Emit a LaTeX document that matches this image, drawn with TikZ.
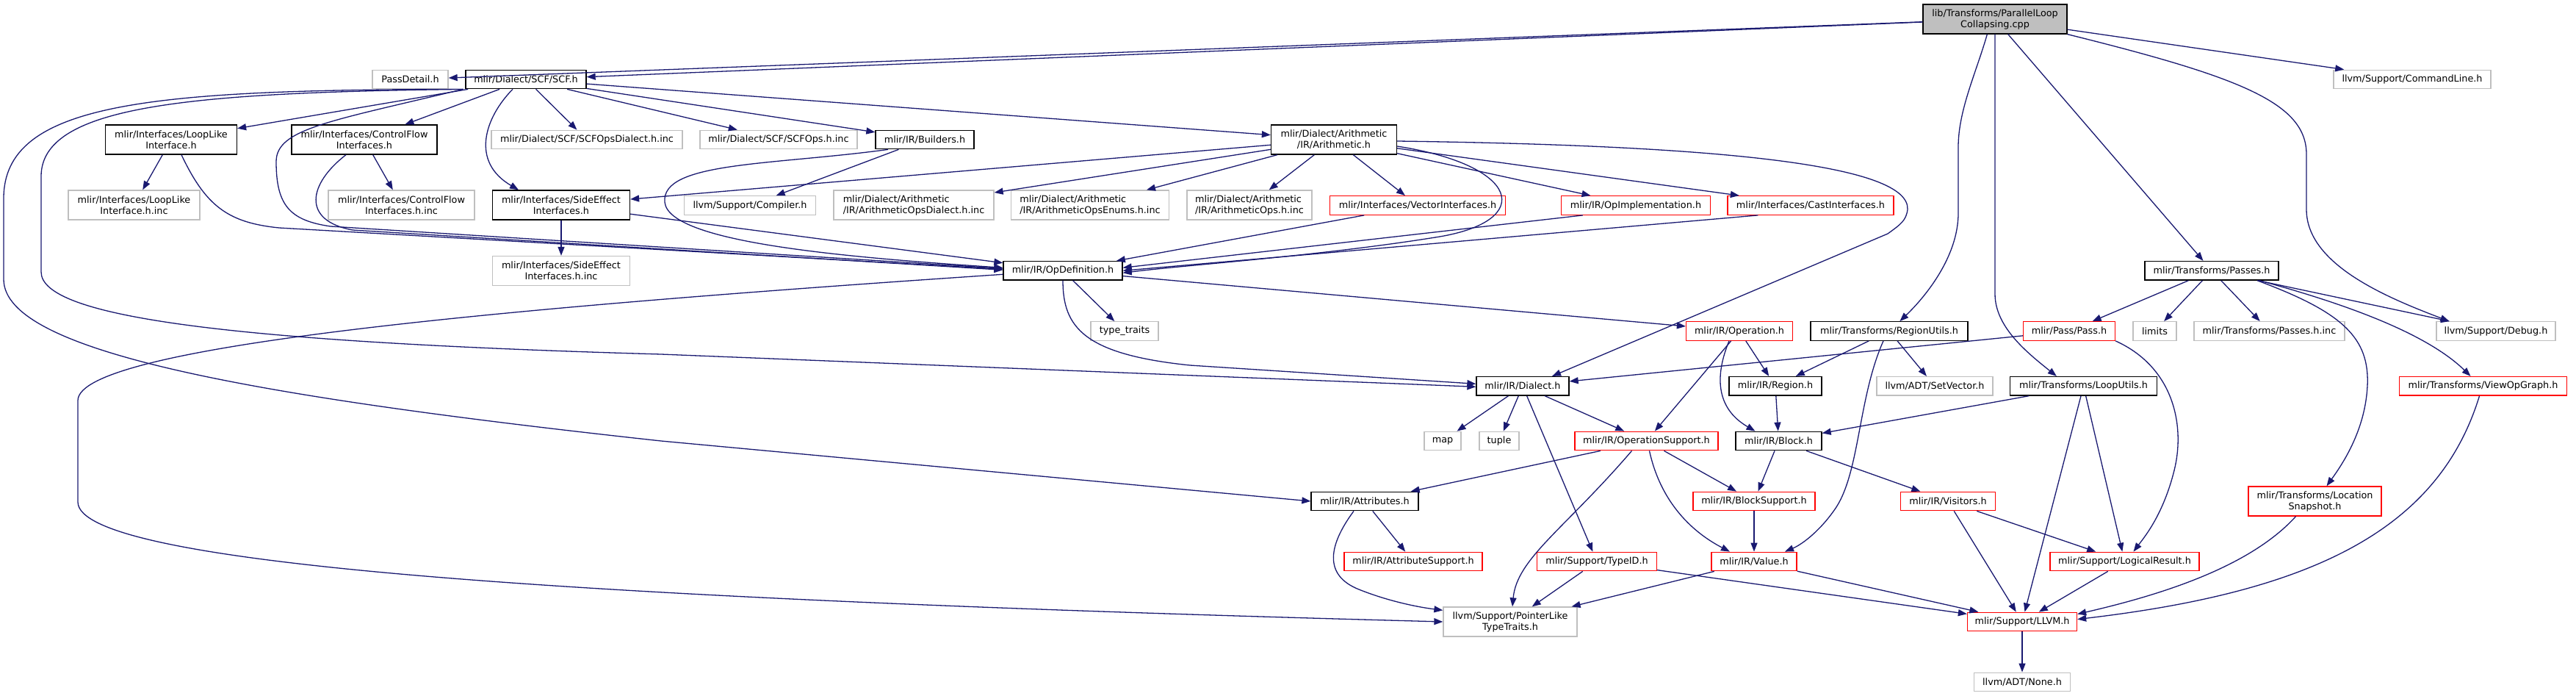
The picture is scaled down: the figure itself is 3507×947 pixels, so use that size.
\documentclass[tikz,border=0pt]{standalone}
\usepackage{fontspec}
\setmainfont{DejaVu Sans}
\usetikzlibrary{arrows.meta}
\definecolor{edgec}{HTML}{191970}
\definecolor{grey75}{HTML}{BFBFBF}
\definecolor{boxred}{HTML}{FF0000}
\tikzset{
  box/.style={rectangle, draw, line width=1.3pt, inner sep=0pt, minimum height=25.5pt,
    font=\fontsize{12.8}{15}\selectfont, align=center, fill=white},
  nb/.style={box, draw=black},
  ng/.style={box, draw=grey75},
  nr/.style={box, draw=boxred},
  rootbox/.style={box, draw=black, fill=grey75},
  two/.style={minimum height=40pt},
  e/.style={draw=edgec, line width=1.3pt, -{Triangle[length=12pt,width=9pt]}},
}
\begin{document}
\begin{tikzpicture}[x=1pt,y=-1pt]
\useasboundingbox (0,0) rectangle (3507,947);
% nodes
\node[rootbox, two, minimum width=196pt] (R) at (2716,26) {lib/Transforms/ParallelLoop\\Collapsing.cpp};
\node[ng, minimum width=103pt] (PD) at (558.5,108) {PassDetail.h};
\node[nb, minimum width=164pt] (SCF) at (716,108) {mlir/Dialect/SCF/SCF.h};
\node[ng, minimum width=214pt] (CL) at (3284,108) {llvm/Support/CommandLine.h};
\node[nb, two, minimum width=179pt] (LL) at (233,190) {mlir/Interfaces/LoopLike\\Interface.h};
\node[nb, two, minimum width=198pt] (CF) at (496,190) {mlir/Interfaces/ControlFlow\\Interfaces.h};
\node[ng, minimum width=260pt] (SCFD) at (799,190) {mlir/Dialect/SCF/SCFOpsDialect.h.inc};
\node[ng, minimum width=214pt] (SCFO) at (1060,190) {mlir/Dialect/SCF/SCFOps.h.inc};
\node[nb, minimum width=134pt] (BLD) at (1259,190) {mlir/IR/Builders.h};
\node[nb, two, minimum width=171pt] (AR) at (1816,190) {mlir/Dialect/Arithmetic\\/IR/Arithmetic.h};
\node[ng, two, minimum width=179pt] (LLI) at (182.5,279) {mlir/Interfaces/LoopLike\\Interface.h.inc};
\node[ng, two, minimum width=199pt] (CFI) at (546.5,279) {mlir/Interfaces/ControlFlow\\Interfaces.h.inc};
\node[nb, two, minimum width=187pt] (SE) at (764,279) {mlir/Interfaces/SideEffect\\Interfaces.h};
\node[ng, minimum width=179pt] (CMP) at (1021,279.5) {llvm/Support/Compiler.h};
\node[ng, two, align=left, minimum width=218pt] (AOD) at (1244,279) {mlir/Dialect/Arithmetic\\/IR/ArithmeticOpsDialect.h.inc};
\node[ng, two, align=left, minimum width=215pt] (AOE) at (1484,279) {mlir/Dialect/Arithmetic\\/IR/ArithmeticOpsEnums.h.inc};
\node[ng, two, align=left, minimum width=170pt] (AOO) at (1701,279) {mlir/Dialect/Arithmetic\\/IR/ArithmeticOps.h.inc};
\node[nr, minimum width=239pt] (VI) at (1930,279.5) {mlir/Interfaces/VectorInterfaces.h};
\node[nr, minimum width=203pt] (OI) at (2227,279.5) {mlir/IR/OpImplementation.h};
\node[nr, minimum width=226pt] (CI) at (2465,279.5) {mlir/Interfaces/CastInterfaces.h};
\node[ng, two, minimum width=187pt] (SEI) at (764,368.5) {mlir/Interfaces/SideEffect\\Interfaces.h.inc};
\node[nb, minimum width=162pt] (OD) at (1447,368.3) {mlir/IR/OpDefinition.h};
\node[nb, minimum width=182pt] (PS) at (3011,368.3) {mlir/Transforms/Passes.h};
\node[ng, minimum width=92pt] (TT) at (1531,450.5) {type\_traits};
\node[nr, minimum width=145pt] (OP) at (2368,450.5) {mlir/IR/Operation.h};
\node[nb, minimum width=214pt] (RU) at (2572,450.5) {mlir/Transforms/RegionUtils.h};
\node[nr, minimum width=125pt] (PA) at (2817,450.5) {mlir/Pass/Pass.h};
\node[ng, minimum width=59pt] (LIM) at (2933.5,450.5) {limits};
\node[ng, minimum width=205pt] (PSI) at (3089.5,450.5) {mlir/Transforms/Passes.h.inc};
\node[ng, minimum width=162pt] (DBG) at (3398,450.5) {llvm/Support/Debug.h};
\node[nb, minimum width=126pt] (DI) at (2073,525.3) {mlir/IR/Dialect.h};
\node[nb, minimum width=126pt] (RG) at (2417,525.3) {mlir/IR/Region.h};
\node[ng, minimum width=158pt] (SV) at (2634,525.3) {llvm/ADT/SetVector.h};
\node[nb, minimum width=200pt] (LU) at (2836.5,525.3) {mlir/Transforms/LoopUtils.h};
\node[nr, minimum width=228pt] (VOG) at (3380.5,525.3) {mlir/Transforms/ViewOpGraph.h};
\node[ng, minimum width=50pt] (MAP) at (1964,600) {map};
\node[ng, minimum width=54pt] (TUP) at (2041,600) {tuple};
\node[nr, minimum width=195pt] (OS) at (2241.5,600) {mlir/IR/OperationSupport.h};
\node[nb, minimum width=117pt] (BL) at (2421.5,600) {mlir/IR/Block.h};
\node[nb, minimum width=146pt] (AT) at (1858,682) {mlir/IR/Attributes.h};
\node[nr, minimum width=166pt] (BS) at (2388,682) {mlir/IR/BlockSupport.h};
\node[nr, minimum width=129pt] (VIS) at (2652,682) {mlir/IR/Visitors.h};
\node[nr, two, minimum width=181pt] (LS) at (3151.5,682) {mlir/Transforms/Location\\Snapshot.h};
\node[nr, minimum width=188pt] (AS) at (1924,764) {mlir/IR/AttributeSupport.h};
\node[nr, minimum width=163pt] (TID) at (2174,764) {mlir/Support/TypeID.h};
\node[nr, minimum width=116pt] (VAL) at (2388,764) {mlir/IR/Value.h};
\node[nr, minimum width=203pt] (LR) at (2892.5,764) {mlir/Support/LogicalResult.h};
\node[ng, two, minimum width=182pt] (PL) at (2056,846) {llvm/Support/PointerLike\\TypeTraits.h};
\node[nr, minimum width=149pt] (LLVM) at (2753,846) {mlir/Support/LLVM.h};
\node[ng, minimum width=131pt] (NONE) at (2753,928) {llvm/ADT/None.h};
% edges from root
\draw[e] (R) -- (PD);
\draw[e] (R) -- (SCF);
\draw[e] (R) -- (CL);
\draw[e] (R.south east) .. controls (3050,105) and (3140,140) .. (3140,210) -- (3140,285) .. controls (3140,360) and (3250,405) .. ([xshift=18pt]DBG.north west);
\draw[e] (R) -- (PS);
\draw[e] ([xshift=88pt]R.south west) .. controls (2690,100) and (2666,150) .. (2666,200) -- (2666,290) .. controls (2666,350) and (2620,405) .. ([xshift=122pt]RU.north west);
\draw[e] (R.south) -- (2716,400) .. controls (2716,445) and (2760,480) .. ([xshift=64pt]LU.north west);
% SCF
\draw[e] (SCF) -- (LL);
\draw[e] (SCF) -- (CF);
\draw[e] ([xshift=-18pt]SCF.south) .. controls (660,160) and (640,220) .. ([xshift=-58pt]SE.north);
\draw[e] (SCF) -- (SCFD);
\draw[e] (SCF) -- (SCFO);
\draw[e] (SCF) -- (BLD);
\draw[e] (SCF) -- (AR);
\draw[e] ([xshift=-3pt]SCF.south west) .. controls (450,165) and (376,175) .. (376,220) .. controls (376,280) and (395,300) .. (450,308) -- ([yshift=3pt]OD.west);
\draw[e] ([xshift=-3pt]SCF.south west) .. controls (200,122) and (5,140) .. (5,270) -- (5,380) .. controls (5,480) and (350,540) .. (900,600) -- (AT.west);
\draw[e] ([xshift=-3pt]SCF.south west) .. controls (250,126) and (56,145) .. (56,240) -- (56,370) .. controls (56,430) and (300,465) .. (900,482) -- ([yshift=-1pt]DI.west);
% interfaces
\draw[e] (LL) -- (LLI);
\draw[e] ([xshift=14pt]LL.south) .. controls (280,280) and (310,303) .. (380,310) -- ([yshift=2pt]OD.west);
\draw[e] (CF) -- (CFI);
\draw[e] ([xshift=-25pt]CF.south) .. controls (420,250) and (410,300) .. (480,313) -- ([yshift=1pt]OD.west);
\draw[e] (SE) -- (SEI);
\draw[e] (SE) -- (OD);
\draw[e] (BLD) -- (CMP);
\draw[e] ([xshift=-50pt]BLD.south) .. controls (1050,225) and (900,220) .. (905,275) .. controls (910,330) and (1150,350) .. ([yshift=4pt]OD.west);
% arithmetic
\draw[e] (AR) -- (SE);
\draw[e] (AR) -- (AOD);
\draw[e] (AR) -- (AOE);
\draw[e] (AR) -- (AOO);
\draw[e] (AR) -- (VI);
\draw[e] (AR) -- (OI);
\draw[e] (AR) -- (CI);
\draw[e] ([yshift=-9pt]AR.east) .. controls (2070,225) and (2090,300) .. (1960,322) .. controls (1800,348) and (1620,360) .. ([yshift=-3pt]OD.east);
\draw[e] ([yshift=-2pt]AR.east) .. controls (2350,198) and (2600,225) .. (2597,285) .. controls (2595,300) and (2588,305) .. (2570,318) -- ([xshift=40pt]DI.north);
\draw[e] (VI) -- (OD);
\draw[e] ([xshift=30pt]OI.south west) -- ([yshift=4pt]OD.east);
\draw[e] ([xshift=42pt]CI.south west) -- (OD.east);
% OpDefinition
\draw[e] (OD) -- (TT);
\draw[e] (OD) -- (OP);
\draw[e] (OD.south) .. controls (1447,445) and (1475,482) .. (1620,497) -- ([yshift=3pt]DI.west);
\draw[e] ([yshift=-5pt]OD.west) .. controls (700,418) and (106,470) .. (106,545) -- (106,683) .. controls (106,770) and (800,815) .. (PL.west);
% Operation, RegionUtils, Pass
\draw[e] (OP) -- (RG);
\draw[e] (OP) -- (OS);
\draw[e] ([xshift=-14pt]OP.south) .. controls (2335,510) and (2335,555) .. ([xshift=-32pt]BL.north);
\draw[e] (RU) -- (RG);
\draw[e] (RU) -- (SV);
\draw[e] ([xshift=-8pt]RU.south) .. controls (2530,540) and (2532,640) .. (2500,690) .. controls (2480,720) and (2455,740) .. ([xshift=42pt]VAL.north);
\draw[e] (PA) -- (DI);
\draw[e] (PA.south east) .. controls (2960,500) and (2975,580) .. (2960,640) .. controls (2945,700) and (2920,730) .. ([xshift=12pt]LR.north);
% Passes
\draw[e] (PS) -- (PA);
\draw[e] (PS) -- (LIM);
\draw[e] (PS) -- (PSI);
\draw[e] (PS) -- (DBG);
\draw[e] ([xshift=65pt]PS.south) .. controls (3180,410) and (3300,450) .. ([xshift=-17pt]VOG.north);
\draw[e] ([xshift=62pt]PS.south) .. controls (3190,425) and (3226,460) .. (3223,525) .. controls (3220,585) and (3190,630) .. ([xshift=16pt]LS.north);
% Dialect and below
\draw[e] (DI) -- (MAP);
\draw[e] (DI) -- (TUP);
\draw[e] (DI) -- (OS);
\draw[e] (DI) -- (TID);
\draw[e] (RG) -- (BL);
\draw[e] (OS) -- (AT);
\draw[e] (OS) -- (BS);
\draw[e] ([xshift=4pt]OS.south) .. controls (2260,680) and (2300,722) .. ([xshift=-33pt]VAL.north);
\draw[e] ([xshift=-20pt]OS.south) .. controls (2130,720) and (2065,760) .. ([xshift=3pt]PL.north);
\draw[e] (BL) -- (BS);
\draw[e] (BL) -- (VIS);
\draw[e] (AT) -- (AS);
\draw[e] ([xshift=-15pt]AT.south) .. controls (1810,740) and (1800,782) .. (1850,802) .. controls (1890,818) and (1930,826) .. ([yshift=-5pt]PL.north west);
\draw[e] (BS) -- (VAL);
\draw[e] (TID) -- (PL);
\draw[e] (TID) -- (LLVM);
\draw[e] (VAL) -- (PL);
\draw[e] (VAL) -- (LLVM);
\draw[e] (VIS) -- (LLVM);
\draw[e] (VIS) -- (LR);
\draw[e] (LU) -- (BL);
\draw[e] (LU) -- (LLVM);
\draw[e] (LU) -- (LR);
\draw[e] (LR) -- (LLVM);
\draw[e] ([xshift=-26pt]LS.south) .. controls (3060,775) and (2930,812) .. ([yshift=-3pt]LLVM.north east);
\draw[e] ([xshift=-5pt]VOG.south) .. controls (3320,720) and (3150,805) .. ([yshift=-10pt]LLVM.north east);
\draw[e] (LLVM) -- (NONE);
\end{tikzpicture}
\end{document}
